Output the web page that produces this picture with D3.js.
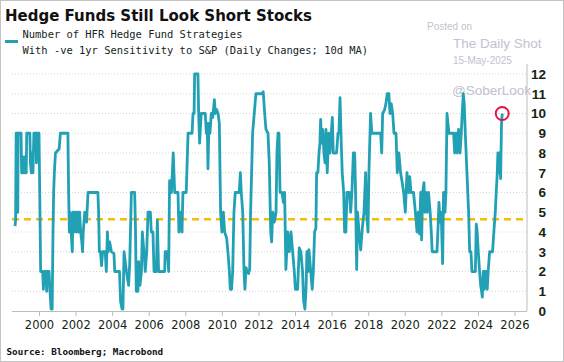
<!DOCTYPE html>
<html>
<head>
<meta charset="utf-8">
<script src="https://cdn.jsdelivr.net/npm/d3@7"></script>
<style>
  html, body { margin: 0; padding: 0; background: #fff; }
  svg { display: block; }
</style>
</head>
<body>
<svg id="chart" width="564" height="362"></svg>
<script>
// ---- data (decimal year, count) ----
const dates = [
1998.69,1998.72,1998.75,1998.82,1998.84,1998.86,1999.02,1999.05,1999.15,1999.18,1999.22,1999.30,1999.33,1999.50,1999.53,1999.58,1999.62,1999.67,1999.72,1999.84,1999.86,1999.90,
2000.00,2000.04,2000.09,2000.20,2000.24,2000.28,2000.38,2000.42,2000.46,2000.55,2000.60,2000.66,2000.72,2000.76,2000.80,2000.84,2000.90,
2001.10,2001.17,2001.58,2001.62,2001.66,2001.70,2001.76,2001.82,2001.86,2001.92,2001.98,
2002.04,2002.10,2002.16,2002.22,2002.28,2002.34,2002.38,2002.42,2002.50,2002.60,2002.68,
2003.22,2003.26,2003.30,2003.36,2003.42,2003.48,2003.62,2003.68,2003.74,2003.78,2003.86,2003.96,
2004.10,2004.14,2004.40,2004.46,2004.54,2004.59,2004.65,2004.78,2004.90,2004.96,
2005.05,2005.23,2005.27,2005.32,2005.41,2005.45,2005.52,2005.60,2005.65,2005.74,2005.81,2005.89,2005.96,
2006.09,2006.14,2006.23,2006.29,2006.42,2006.47,2006.54,2006.87,2006.90,
2007.02,2007.09,2007.14,2007.24,2007.34,2007.42,2007.60,2007.65,2007.75,2007.82,2007.87,
2008.05,2008.15,2008.37,2008.42,2008.48,2008.51,2008.69,2008.73,2008.78,2008.87,
2009.09,2009.15,2009.20,2009.24,2009.29,2009.35,2009.42,2009.50,2009.59,2009.64,2009.71,2009.79,2009.86,2009.93,
2010.00,2010.08,2010.15,2010.26,2010.33,2010.41,2010.46,2010.53,2010.59,2010.66,2010.73,2010.95,
2011.01,2011.06,2011.14,2011.21,2011.26,2011.32,2011.39,2011.46,2011.52,2011.57,2011.68,2011.77,2011.86,
2012.19,2012.26,2012.34,2012.41,2012.52,2012.59,2012.67,2012.72,2012.78,2012.87,2012.96,
2013.01,2013.07,2013.12,2013.18,2013.29,2013.36,2013.43,2013.50,2013.60,2013.69,2013.78,2013.87,2013.96,
2014.02,2014.14,2014.23,2014.32,2014.41,2014.47,2014.54,2014.60,2014.65,2014.71,2014.76,2014.85,2014.94,
2015.00,2015.07,2015.14,2015.18,2015.25,2015.31,2015.36,2015.40,2015.45,2015.51,2015.58,2015.64,2015.69,2015.76,2015.84,2015.91,2015.98,
2016.04,2016.09,2016.27,2016.35,2016.40,2016.46,2016.51,2016.58,2016.66,2016.71,2016.78,2016.84,2016.97,
2017.04,2017.11,2017.19,2017.26,2017.31,2017.37,2017.42,2017.50,2017.59,2017.68,2017.77,2017.86,2017.91,2017.99,
2018.04,2018.13,2018.20,2018.68,2018.74,2018.79,2018.90,2018.97,
2019.04,2019.13,2019.19,2019.26,2019.34,2019.41,2019.52,2019.59,2019.68,2019.77,2019.86,2019.94,
2020.03,2020.12,2020.21,2020.27,2020.34,2020.48,2020.58,2020.67,2020.74,2020.81,2020.87,2020.92,2020.98,
2021.05,2021.10,2021.16,2021.23,2021.30,2021.39,2021.45,2021.50,2021.76,2021.81,2021.87,2021.92,2021.99,
2022.07,2022.12,2022.20,2022.25,2022.31,2022.36,2022.42,2022.67,2022.73,2022.80,2022.87,2022.94,
2023.02,2023.09,2023.14,2023.20,2023.25,2023.31,2023.40,2023.49,2023.55,2023.62,2023.67,2023.86,2023.91,2023.96,
2024.02,2024.09,2024.15,2024.20,2024.24,2024.29,2024.35,2024.40,2024.46,2024.51,2024.56,2024.64,2024.80,2024.87,2024.95,
2025.00,2025.06,2025.09,2025.13,2025.18,2025.24,2025.29,2025.33
];
const values = [
4.3,4.6,9,9,5,9,9,7,7,7.8,7,7,9,9,7.5,7,8,7,9,9,7.5,9,
9,6,2,2,1.1,2,2,1,2,2,1,0.1,0.1,3.6,6,7,8,
8.2,9,9,6,4,5,4,3,5,4,5,
4,5,4,5,4,3.5,3,4,5,4.5,6,
6,5,3,3,2.3,3,3,2,4,3,3.5,3,
2.9,2,2,0.5,0.1,0.1,3,2,1.3,2.4,
6,6,4.5,1,1,2.5,1.3,2,4,3,2,3,5,
5,4,4,2,2,4.6,2,2,3,
3,2,6.6,6,8,6,6,4,5,4,6,
6,9,9,10,10,12,12,10,8.5,10,
10,9,9.5,7.2,9.5,9,10,9.8,10.7,10,10.2,10,9.5,5,
4,5,4,3.7,3,2,1.1,1.1,2,5,6,6,
7,6,5,2,1.1,2.2,2,1.9,2.1,5,9,10,11,
11,11.1,10,9.2,9,7.5,4,3.5,5,4.5,5,
8,9,9,6,6,5.5,6,2.1,4,3,4,3,2,
1.1,1.1,3.2,3,2,0.5,0.1,1.1,3,2,3.1,2.1,1.1,
2,4,4.2,7,7,8,8.5,9.7,8.5,9.2,8,7.5,9.2,7,9,8,9,
9.8,8,8,9,9,10.8,9,7,6,4,4,6,6,
5,6,8,8,6,2.1,5,4,3.1,4.2,5,7,5,4,
7,10,9,9,8,10,10.2,10.5,
11,11,10,10.5,10,9,9,7,8,7,6.5,6,
5,7,6,6.8,6,6,5,4,5,3.9,6,3.6,6,
6.5,5,6,5,6,5,4,3,3,4,5.5,4.5,5,
2.4,6,5,6,10,9.5,9,9,8,9,8,9.2,
8,9,10,11,10.5,9,7,5,3,3,2,2,4.4,4,
3,2,1.3,1,0.7,2,1.1,2,2,1.1,2,3,3,4,5,
6,7,8,7,8,6.7,9.5,10
];
const yTicks = [0,1,2,3,4,5,6,7,8,9,10,11,12];
const xTicks = [2000,2002,2004,2006,2008,2010,2012,2014,2016,2018,2020,2022,2024,2026];
const avgLevel = 4.65;
const titleText = "Hedge Funds Still Look Short Stocks";
const legendLines = ["Number of HFR Hedge Fund Strategies",
                     "With -ve 1yr Sensitivity to S&P (Daily Changes; 10d MA)"];
const sourceText = "Source: Bloomberg; Macrobond";
const watermark = ["Posted on", "The Daily Shot", "15-May-2025", "@SoberLook"];

// ---- layout ----
const W = 564, H = 362;
const plotLeft = 12, plotRight = 527, plotTop = 74, plotBottom = 311;
const lineColor = "#22a1b5";

const svg = d3.select("#chart");
svg.append("rect").attr("x",0.5).attr("y",0.5).attr("width",W-1).attr("height",H-1)
  .attr("fill","#fff").attr("stroke","#c4c4c4");

const x = d3.scaleLinear().domain([2000, 2026]).range([39, 514.5]);
const y = d3.scaleLinear().domain([0, 12]).range([plotBottom, plotTop]);

// gridlines
svg.append("g").selectAll("line").data(yTicks.filter(d => d > 0)).join("line")
  .attr("x1", plotLeft).attr("x2", plotRight)
  .attr("y1", d => y(d)).attr("y2", d => y(d))
  .attr("stroke", "#d6d6d6").attr("stroke-width", 1).attr("stroke-dasharray", "1,2");

// watermark
const wm = svg.append("g").attr("fill", "#c2c2d0").attr("font-family", "Liberation Sans, Arial, sans-serif");
wm.append("text").attr("x", 427).attr("y", 30).attr("font-size", 10).text(watermark[0]);
wm.append("text").attr("x", 453).attr("y", 47.5).attr("font-size", 13.5).text(watermark[1]);
wm.append("text").attr("x", 453).attr("y", 64).attr("font-size", 10).text(watermark[2]);
wm.append("text").attr("x", 452).attr("y", 94.5).attr("font-size", 13.5).text(watermark[3]);

// right axis line
svg.append("line").attr("x1", plotRight).attr("x2", plotRight).attr("y1", plotTop - 10).attr("y2", plotBottom)
  .attr("stroke", "#bdbdbd").attr("stroke-width", 1);

// bottom axis
const xAxis = d3.axisBottom(x).tickValues(xTicks).tickFormat(d3.format("d")).tickSize(5).tickPadding(5);
const gx = svg.append("g").attr("transform", `translate(0,${plotBottom})`).call(xAxis);
gx.select(".domain").attr("d", `M${plotLeft},0.5H${plotRight}`).attr("stroke", "#bdbdbd");
gx.selectAll(".tick line").attr("stroke", "#bdbdbd");
gx.selectAll(".tick text").attr("font-family", "DejaVu Sans, sans-serif").attr("font-size", 11.5)
  .attr("fill", "#142414");

// right axis labels
const yAxis = d3.axisRight(y).tickValues(yTicks).tickSize(0).tickPadding(0);
const gy = svg.append("g").attr("transform", `translate(546,0)`).call(yAxis);
gy.select(".domain").remove();
gy.selectAll(".tick text").attr("text-anchor", "end").attr("x", 0)
  .attr("font-family", "Liberation Sans, Arial, sans-serif").attr("font-size", 13.5).attr("font-weight", "bold")
  .attr("fill", "#142414");

// average dashed line
svg.append("line").attr("x1", plotLeft).attr("x2", plotRight)
  .attr("y1", y(avgLevel)).attr("y2", y(avgLevel))
  .attr("stroke", "#f6bd00").attr("stroke-width", 2.5).attr("stroke-dasharray", "7,5");

// series line
const pts = dates.map((d, i) => [d, values[i]]);
const line = d3.line().x(d => x(d[0])).y(d => y(d[1]));
svg.append("path").datum(pts).attr("d", line)
  .attr("fill", "none").attr("stroke", lineColor).attr("stroke-width", 2.8)
  .attr("stroke-linejoin", "round");

// highlight circle at last point
const last = pts[pts.length - 1];
svg.append("circle").attr("cx", x(last[0])).attr("cy", y(last[1])).attr("r", 6.5)
  .attr("fill", "none").attr("stroke", "#e0184a").attr("stroke-width", 2);

// title
svg.append("text").attr("x", 5).attr("y", 20.5)
  .attr("font-family", "DejaVu Sans, sans-serif").attr("font-weight", "bold").attr("font-size", 15)
  .attr("fill", "#111").text(titleText);

// legend
svg.append("line").attr("x1", 5).attr("x2", 18).attr("y1", 41.5).attr("y2", 41.5)
  .attr("stroke", lineColor).attr("stroke-width", 3);
const lg = svg.append("g").attr("font-family", "DejaVu Sans Mono, monospace").attr("font-size", 10.45).attr("fill", "#142424");
lg.append("text").attr("x", 22.5).attr("y", 38.3).text(legendLines[0]);
lg.append("text").attr("x", 22.5).attr("y", 53.5).text(legendLines[1]);

// source
svg.append("text").attr("x", 6.5).attr("y", 355)
  .attr("font-family", "DejaVu Sans Mono, monospace").attr("font-weight", "bold").attr("font-size", 9.3)
  .attr("fill", "#111").text(sourceText);
</script>
</body>
</html>
